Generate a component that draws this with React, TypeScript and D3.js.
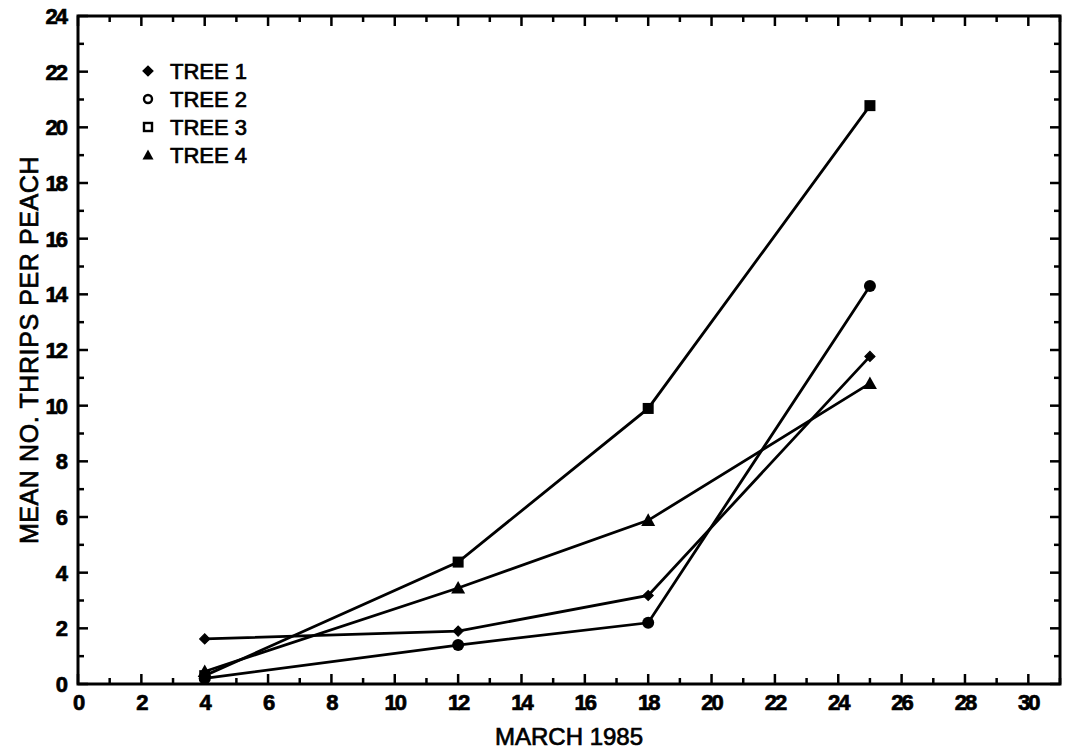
import React from "react";
import * as d3 from "d3";

const days = [4, 12, 18, 25];
const tree1 = [1.62, 1.9, 3.18, 11.77];
const tree2 = [0.2, 1.4, 2.2, 14.3];
const tree3 = [0.3, 4.38, 9.9, 20.78];
const tree4 = [0.45, 3.45, 5.88, 10.8];
const seriesNames = ["TREE 1", "TREE 2", "TREE 3", "TREE 4"];
const seriesSymbols = ["plus", "circle", "square", "triangle"];
const xTicks = d3.range(0, 31, 2);
const yTicks = d3.range(0, 25, 2);

const W = 1066;
const H = 752;
const M = { left: 78, right: 1060, top: 16, bottom: 684 };

function Marker({ kind, x, y, legend }: { kind: string; x: number; y: number; legend?: boolean }) {
  if (kind === "plus") {
    const s = 5;
    return (
      <path
        d={`M${x - s},${y}L${x},${y - s}L${x + s},${y}L${x},${y + s}Z`}
        fill="#000"
        stroke="#000"
        strokeWidth={1.2}
      />
    );
  }
  if (kind === "circle") {
    return legend ? (
      <circle cx={x} cy={y} r={4} fill="#fff" stroke="#000" strokeWidth={2.4} />
    ) : (
      <circle cx={x} cy={y} r={6} fill="#000" />
    );
  }
  if (kind === "square") {
    const s = legend ? 4 : 5.5;
    return legend ? (
      <rect x={x - s} y={y - s} width={2 * s} height={2 * s} fill="#fff" stroke="#000" strokeWidth={2.4} />
    ) : (
      <rect x={x - s} y={y - s} width={2 * s} height={2 * s} fill="#000" />
    );
  }
  const s = legend ? 5.5 : 7;
  return <path d={`M${x},${y - s}L${x + s},${y + s * 0.8}L${x - s},${y + s * 0.8}Z`} fill="#000" />;
}

export default function App() {
  const x = d3.scaleLinear().domain([0, 31]).range([M.left, M.right]);
  const y = d3.scaleLinear().domain([0, 24]).range([M.bottom, M.top]);
  const series = [tree1, tree2, tree3, tree4];
  const line = d3
    .line<number>()
    .x((_, i) => x(days[i]))
    .y((d) => y(d));

  const xMinor = d3.range(0, 32, 1);
  const yMinor = d3.range(0, 25, 1);
  const font = "'Liberation Sans', Arial, sans-serif";
  const heavy = { stroke: "#000", strokeWidth: 0.7 };

  return (
    <svg
      width={W}
      height={H}
      style={{ position: "absolute", left: 0, top: 0, background: "#fff" }}
      fontFamily={font}
    >
      <rect x={0} y={0} width={W} height={H} fill="#fff" />
      <rect
        x={M.left}
        y={M.top}
        width={M.right - M.left}
        height={M.bottom - M.top}
        fill="none"
        stroke="#000"
        strokeWidth={3}
      />
      {xMinor.map((v) => {
        const len = v % 2 === 0 ? 10 : 6;
        return (
          <g key={"xt" + v}>
            <line x1={x(v)} x2={x(v)} y1={M.bottom} y2={M.bottom - len} stroke="#000" strokeWidth={2.5} />
            <line x1={x(v)} x2={x(v)} y1={M.top} y2={M.top + len} stroke="#000" strokeWidth={2.5} />
          </g>
        );
      })}
      {yMinor.map((v) => {
        const len = v % 2 === 0 ? 10 : 6;
        return (
          <g key={"yt" + v}>
            <line x1={M.left} x2={M.left + len} y1={y(v)} y2={y(v)} stroke="#000" strokeWidth={2.5} />
            <line x1={M.right} x2={M.right - len} y1={y(v)} y2={y(v)} stroke="#000" strokeWidth={2.5} />
          </g>
        );
      })}
      {xTicks.map((v) => (
        <text
          key={"xl" + v}
          x={x(v)}
          y={M.bottom + 26}
          textAnchor="middle"
          fontSize={22}
          fontWeight="bold"
          letterSpacing={-2}
          {...heavy}
        >
          {v}
        </text>
      ))}
      {yTicks.map((v) => (
        <text
          key={"yl" + v}
          x={M.left - 12}
          y={y(v) + 8}
          textAnchor="end"
          fontSize={22}
          fontWeight="bold"
          letterSpacing={-2}
          {...heavy}
        >
          {v}
        </text>
      ))}
      <text x={x(15.5)} y={745} textAnchor="middle" fontSize={24} {...heavy}>
        MARCH 1985
      </text>
      <text
        transform={`translate(38,${(M.top + M.bottom) / 2}) rotate(-90)`}
        textAnchor="middle"
        fontSize={25}
        letterSpacing={0.6}
        {...heavy}
      >
        MEAN NO. THRIPS PER PEACH
      </text>
      {series.map((s, i) => (
        <path key={"l" + i} d={line(s) || ""} fill="none" stroke="#000" strokeWidth={2.8} />
      ))}
      {series.map((s, i) =>
        s.map((v, j) => <Marker key={`m${i}-${j}`} kind={seriesSymbols[i]} x={x(days[j])} y={y(v)} />)
      )}
      {seriesNames.map((n, i) => (
        <g key={"lg" + i}>
          <Marker kind={seriesSymbols[i]} x={148} y={71 + i * 28} legend />
          <text x={170} y={79 + i * 28} fontSize={22} {...heavy}>
            {n}
          </text>
        </g>
      ))}
    </svg>
  );
}
